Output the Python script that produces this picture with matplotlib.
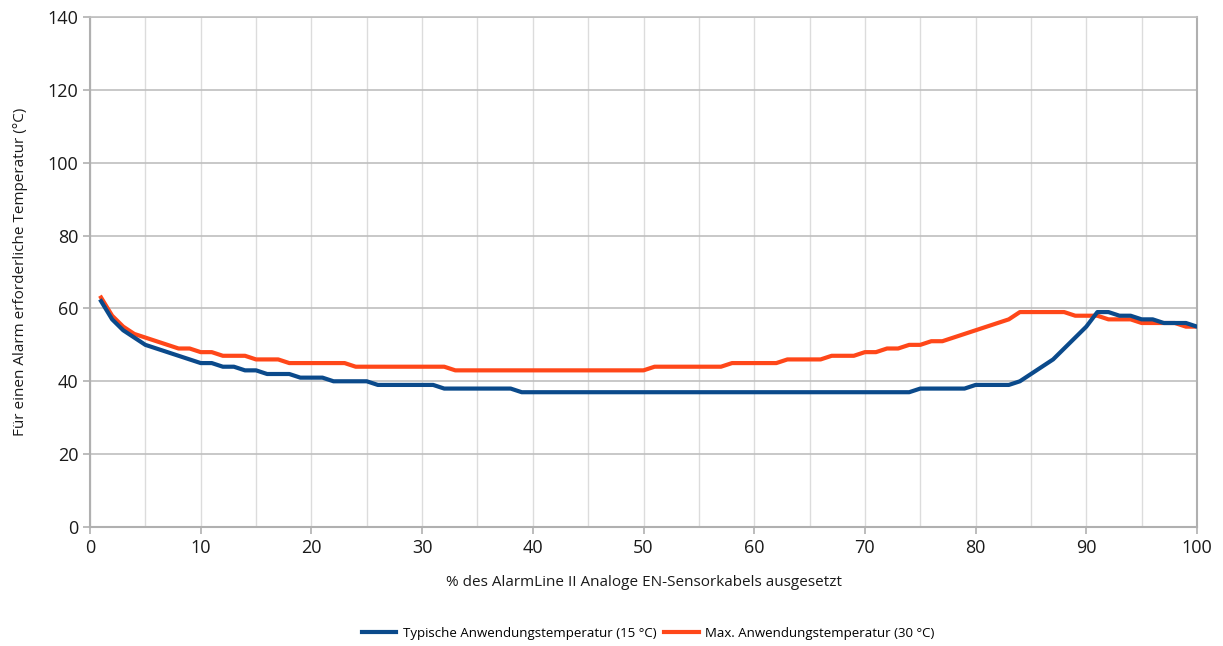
import matplotlib
matplotlib.use("Agg")
import matplotlib.pyplot as plt
import numpy as np

plt.rcParams['font.family'] = ['Open Sans', 'DejaVu Sans']

x_pct = list(range(1, 101))
typical = [62, 57, 54, 52, 50, 49, 48, 47, 46, 45,
           45, 44, 44, 43, 43, 42, 42, 42, 41, 41,
           41, 40, 40, 40, 40, 39, 39, 39, 39, 39,
           39, 38, 38, 38, 38, 38, 38, 38, 37, 37,
           37, 37, 37, 37, 37, 37, 37, 37, 37, 37,
           37, 37, 37, 37, 37, 37, 37, 37, 37, 37,
           37, 37, 37, 37, 37, 37, 37, 37, 37, 37,
           37, 37, 37, 37, 38, 38, 38, 38, 38, 39,
           39, 39, 39, 40, 42, 44, 46, 49, 52, 55,
           59, 59, 58, 58, 57, 57, 56, 56, 56, 55]
maximum = [63, 58, 55, 53, 52, 51, 50, 49, 49, 48,
           48, 47, 47, 47, 46, 46, 46, 45, 45, 45,
           45, 45, 45, 44, 44, 44, 44, 44, 44, 44,
           44, 44, 43, 43, 43, 43, 43, 43, 43, 43,
           43, 43, 43, 43, 43, 43, 43, 43, 43, 43,
           44, 44, 44, 44, 44, 44, 44, 45, 45, 45,
           45, 45, 46, 46, 46, 46, 47, 47, 47, 48,
           48, 49, 49, 50, 50, 51, 51, 52, 53, 54,
           55, 56, 57, 59, 59, 59, 59, 59, 58, 58,
           58, 57, 57, 57, 56, 56, 56, 56, 55, 55]

label_typ = "Typische Anwendungstemperatur (15 °C)"
label_max = "Max. Anwendungstemperatur (30 °C)"
xlabel = "% des AlarmLine II Analoge EN-Sensorkabels ausgesetzt"
ylabel = "Für einen Alarm erforderliche Temperatur (°C)"

fig = plt.figure(figsize=(12.23, 6.46), dpi=100)
ax = fig.add_axes([90/1223, 1-527/646, (1197-90)/1223, (527-17)/646])

ax.plot(x_pct, typical, color='#0B4A8B', lw=3, label=label_typ, zorder=3, solid_joinstyle='round')
ax.plot(x_pct, maximum, color='#FF4719', lw=3, label=label_max, zorder=2, solid_joinstyle='round')

ax.set_xlim(0, 100)
ax.set_ylim(0, 140)
ax.set_xticks(np.arange(0, 101, 10))
ax.set_xticks(np.arange(5, 100, 10), minor=True)
ax.set_yticks(np.arange(0, 141, 20))
ax.tick_params(axis='both', which='major', labelsize=13, length=5, color='#b0b0b0', width=1.2, colors='#b0b0b0', labelcolor='#1a1a1a')
ax.tick_params(axis='x', which='minor', length=0)
ax.grid(axis='y', which='major', color='#bfbfbf', lw=1.2)
ax.grid(axis='x', which='both', color='#dcdcdc', lw=1.0)
ax.set_axisbelow(True)
for s in ax.spines.values():
    s.set_color('#b0b0b0')
    s.set_linewidth(1.5)
ax.spines['top'].set_color('#bfbfbf')
ax.spines['top'].set_linewidth(1.2)

ax.set_xlabel(xlabel, fontsize=11, color='#1a1a1a', labelpad=13)
ax.set_ylabel(ylabel, fontsize=11, color='#1a1a1a', labelpad=14)

fig.legend(loc='center', bbox_to_anchor=(0.53, 1-633/646), ncol=2, frameon=False,
           fontsize=9.5, handlelength=2.6, columnspacing=0.6, handletextpad=0.5)

fig.savefig('out.png', dpi=100, facecolor='white')
